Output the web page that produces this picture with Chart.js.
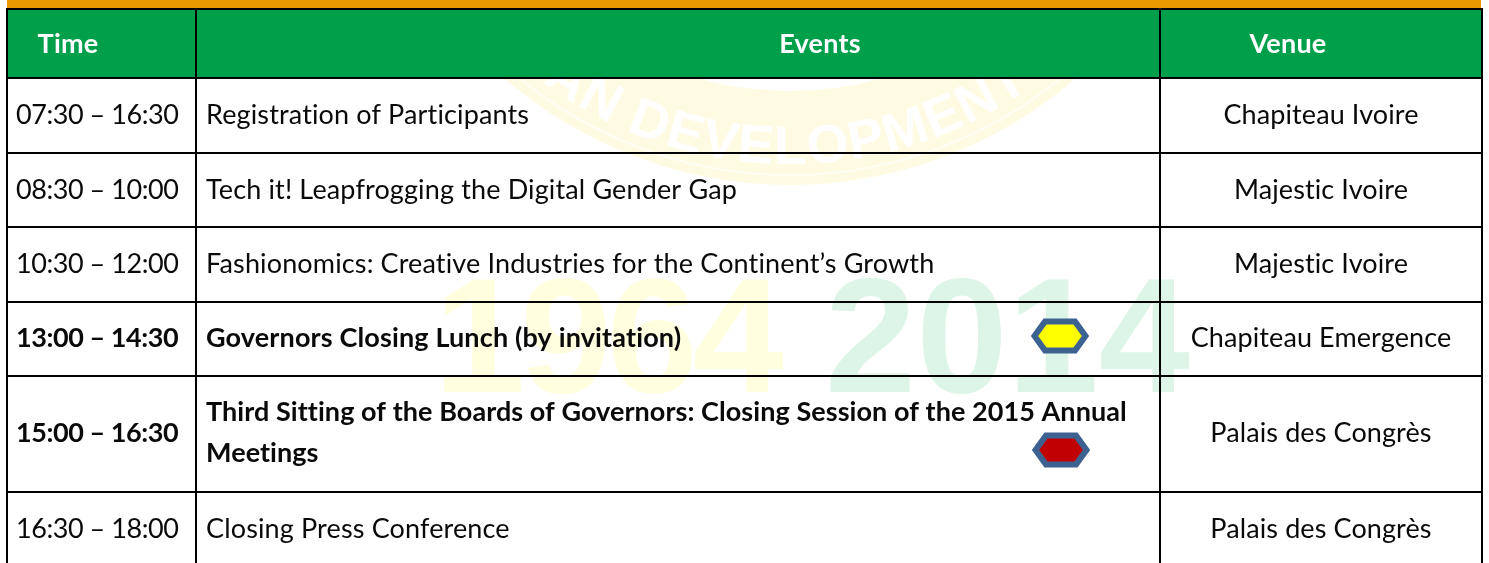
<!DOCTYPE html>
<html><head><meta charset="utf-8">
<style>html,body{margin:0;padding:0;background:#fff}#w{width:1489px;height:563px;position:relative}canvas{display:block}</style>
<script src="https://cdn.jsdelivr.net/npm/chart.js@4/dist/chart.umd.min.js"></script>
</head><body><div id="w"><canvas id="c" width="1489" height="563"></canvas></div>
<script>
const headers = ["Time", "Events", "Venue"];
const times = ["07:30 – 16:30", "08:30 – 10:00", "10:30 – 12:00", "13:00 – 14:30", "15:00 – 16:30", "16:30 – 18:00"];
const events = [
  ["Registration of Participants"],
  ["Tech it! Leapfrogging the Digital Gender Gap"],
  ["Fashionomics: Creative Industries for the Continent’s Growth"],
  ["Governors Closing Lunch (by invitation)"],
  ["Third Sitting of the Boards of Governors: Closing Session of the 2015 Annual", "Meetings"],
  ["Closing Press Conference"]
];
const venues = ["Chapiteau Ivoire", "Majestic Ivoire", "Majestic Ivoire", "Chapiteau Emergence", "Palais des Congrès", "Palais des Congrès"];
const boldRows = [false, false, false, true, true, false];
const rowEdges = [9, 78, 153, 227, 302, 376, 492, 566];
const colEdges = [7, 196, 1160, 1482];
const markerX = [1060, 1061];
const markerY = [336, 450];
const markerFill = ["#ffff00", "#c00000"];
const watermarkYears = ["1964", "2014"];
const sealText = "AFRICAN DEVELOPMENT";

const FONT = 'Lato, "Open Sans", sans-serif';
function hexagon(fill) {
  const c = document.createElement('canvas'); c.width = 58; c.height = 36;
  const g = c.getContext('2d');
  g.beginPath();
  g.moveTo(3.5, 18); g.lineTo(14, 3.5); g.lineTo(44, 3.5); g.lineTo(54.5, 18); g.lineTo(44, 32.5); g.lineTo(14, 32.5); g.closePath();
  g.fillStyle = fill; g.fill();
  g.lineWidth = 6; g.strokeStyle = '#3d6291'; g.lineJoin = 'miter'; g.stroke();
  return c;
}
function put(ctx, s, x, y, font, color, align, spacing) {
  ctx.font = font; ctx.fillStyle = color; ctx.textAlign = align; ctx.textBaseline = 'alphabetic';
  ctx.letterSpacing = (spacing || 0) + 'px';
  ctx.fillText(s, x, y);
  ctx.letterSpacing = '0px';
}
const tablePlugin = {
  id: 'table',
  beforeDraw(chart) {
    const { ctx, scales: { x, y } } = chart;
    ctx.save();
    ctx.fillStyle = '#fff'; ctx.fillRect(0, 0, chart.width, chart.height);
    // seal ring
    const cx = x.getPixelForValue(790), cy = y.getPixelForValue(-251);
    ctx.beginPath(); ctx.arc(cx, cy, 436, 0, Math.PI * 2); ctx.arc(cx, cy, 342, 0, Math.PI * 2, true);
    ctx.fillStyle = '#fffbe3'; ctx.fill('evenodd');
    ctx.beginPath(); ctx.arc(cx, cy, 426, 0, Math.PI * 2);
    ctx.strokeStyle = '#fffef6'; ctx.lineWidth = 2; ctx.stroke();
    // seal lettering
    ctx.font = 'bold 54px "Liberation Sans"'; ctx.fillStyle = '#ffffff'; ctx.textAlign = 'center'; ctx.textBaseline = 'alphabetic';
    const r = 415, stretch = 1.037, total = ctx.measureText(sealText).width * stretch;
    let adv = -total / 2 - 90;
    for (const ch of sealText) {
      const w = ctx.measureText(ch).width * stretch;
      const a = (adv + w / 2) / r;
      ctx.save();
      ctx.translate(cx + r * Math.sin(a), cy + r * Math.cos(a));
      ctx.rotate(-a);
      ctx.fillText(ch, 0, 0);
      ctx.restore();
      adv += w;
    }
    // years
    ctx.textAlign = 'left';
    ctx.font = 'bold 164px "Liberation Sans"';
    ctx.letterSpacing = '-5px';
    ctx.fillStyle = '#ffffe0'; ctx.fillText(watermarkYears[0], x.getPixelForValue(434), y.getPixelForValue(392));
    ctx.letterSpacing = '0px';
    ctx.fillStyle = '#dcf5e6'; ctx.fillText(watermarkYears[1], x.getPixelForValue(825), y.getPixelForValue(392));
    // header fill
    ctx.fillStyle = '#00a04b';
    const y0 = y.getPixelForValue(rowEdges[0]), y1 = y.getPixelForValue(rowEdges[1]);
    ctx.fillRect(x.getPixelForValue(colEdges[0]), y0, x.getPixelForValue(colEdges[3]) - x.getPixelForValue(colEdges[0]), y1 - y0);
    ctx.restore();
  },
  afterDatasetsDraw(chart) {
    const { ctx, scales: { x, y } } = chart;
    ctx.save();
    // top band
    const top = y.getPixelForValue(rowEdges[0]) - 1;
    ctx.fillStyle = '#fff'; ctx.fillRect(0, 0, chart.width, top);
    ctx.fillStyle = '#ea9800';
    ctx.fillRect(x.getPixelForValue(colEdges[0]), 0, x.getPixelForValue(colEdges[3]) - x.getPixelForValue(colEdges[0]) - 1, top);
    // header
    const hb = y.getPixelForValue(53), hf = 'bold 27px ' + FONT;
    put(ctx, headers[0], x.getPixelForValue(68), hb, hf, '#fff', 'center', 0.2);
    put(ctx, headers[1], x.getPixelForValue(820), hb, hf, '#fff', 'center', 0.2);
    put(ctx, headers[2], x.getPixelForValue(1288), hb, hf, '#fff', 'center', 0.2);
    // rows
    times.forEach((t, i) => {
      const mid = (rowEdges[i + 1] + rowEdges[i + 2]) / 2;
      const base = y.getPixelForValue(mid + (boldRows[i] ? 7.5 : 8.5));
      const f = (boldRows[i] ? 'bold ' : '') + '27px ' + FONT;
      put(ctx, t, x.getPixelForValue(colEdges[0] + 9), base, f, '#0a0a0a', 'left', -0.45);
      const lines = events[i];
      lines.forEach((l, k) => {
        const by = y.getPixelForValue(mid + 7.5 + (k - (lines.length - 1) / 2) * 41 + (boldRows[i] ? 0 : 1));
        put(ctx, l, x.getPixelForValue(colEdges[1] + 10), by, f, '#0a0a0a', 'left', lines.length > 1 ? 0.06 : 0.14);
      });
      put(ctx, venues[i], x.getPixelForValue(1321), base, '27px ' + FONT, '#0a0a0a', 'center', 0.1);
    });
    ctx.restore();
  }
};
function axis(min, max, edges, reverse) {
  return {
    type: 'linear', min, max, reverse: !!reverse,
    afterBuildTicks(s) { s.ticks = edges.filter(v => v >= min && v <= max).map(v => ({ value: v })); },
    ticks: { display: false },
    border: { display: false },
    grid: { color: '#000', lineWidth: 2, drawTicks: false, z: -1 }
  };
}
new Chart(document.getElementById('c'), {
  type: 'scatter',
  data: {
    datasets: [{
      label: 'Markers',
      data: markerX.map((v, i) => ({ x: v, y: markerY[i] })),
      pointStyle: markerFill.map(hexagon),
      pointRadius: 29
    }]
  },
  plugins: [tablePlugin],
  options: {
    responsive: false, animation: false,
    layout: { autoPadding: false, padding: { left: 7, right: 7, top: 0, bottom: 0 } },
    plugins: { legend: { display: false }, tooltip: { enabled: false } },
    scales: { x: axis(7, 1482, colEdges), y: axis(0, 563, rowEdges, true) }
  }
});
</script></body></html>
